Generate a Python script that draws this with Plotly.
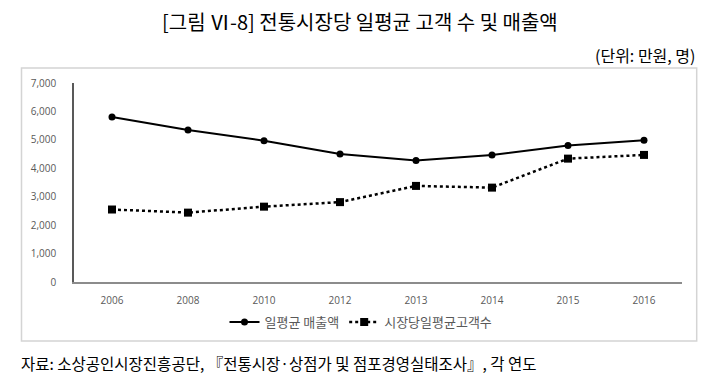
import plotly.graph_objects as go

years = ["2006", "2008", "2010", "2012", "2013", "2014", "2015", "2016"]
sales = [5800, 5350, 4970, 4500, 4270, 4470, 4800, 4990]
customers = [2550, 2440, 2650, 2810, 3380, 3320, 4340, 4470]
y_ticks = [0, 1000, 2000, 3000, 4000, 5000, 6000, 7000]
y_ticktext = ["0", "1,000", "2,000", "3,000", "4,000", "5,000", "6,000", "7,000"]

title_text = "[그림 Ⅵ-8] 전통시장당 일평균 고객 수 및 매출액"
unit_text = "(단위: 만원, 명)"
source_text = "자료: 소상공인시장진흥공단, 『전통시장·상점가 및 점포경영실태조사』, 각 연도"
name_sales = "일평균 매출액"
name_cust = "시장당일평균고객수"

W, H = 720, 386
OFF = 8  # page body offset
ML, MR, MT, MB = 74 - OFF, 38 + OFF, 83 - OFF, 104 + OFF
pw = W - ML - MR
ph = H - MT - MB

def px_x(px):
    return (px - OFF - ML) / pw

def px_y(py):
    return (H - MB - (py - OFF)) / ph

kr = "Noto Sans CJK KR"

fig = go.Figure()
fig.add_trace(go.Scatter(
    x=years, y=sales, name=name_sales, mode="lines+markers",
    line=dict(color="#000000", width=2),
    marker=dict(symbol="circle", size=7, color="#000000"),
))
fig.add_trace(go.Scatter(
    x=years, y=customers, name=name_cust, mode="lines+markers",
    line=dict(color="#000000", width=2.5, dash="dot"),
    marker=dict(symbol="square", size=8, color="#000000"),
))

frame = dict(color="#d4d4d4", width=1.5)
fx0, fx1, fy0, fy1 = px_x(21.5), px_x(696.7), px_y(341), px_y(68)

fig.update_layout(
    width=W, height=H,
    margin=dict(l=ML, r=MR, t=MT, b=MB, autoexpand=False),
    paper_bgcolor="white", plot_bgcolor="white",
    showlegend=True,
    legend=dict(
        orientation="h", xref="paper", yref="paper",
        x=px_x(361), xanchor="center", y=px_y(322), yanchor="middle",
        font=dict(family=kr, size=13, color="#595959"),
        bgcolor="rgba(0,0,0,0)",
    ),
    xaxis=dict(
        type="category", range=[-0.5, 7.5],
        showline=True, linecolor="#8c8c8c", linewidth=2,
        ticks="", showgrid=False, zeroline=False,
        tickfont=dict(family="Open Sans", size=10, color="#595959"),
        ticklabelstandoff=8,
    ),
    yaxis=dict(
        range=[0, 7000], tickvals=y_ticks, ticktext=y_ticktext,
        showline=True, linecolor="#595959", linewidth=1.5,
        ticks="", showgrid=False, zeroline=False,
        tickfont=dict(family="Open Sans", size=10, color="#595959"),
        ticklabelstandoff=14,
    ),
    shapes=[
        dict(type="rect", xref="paper", yref="paper", x0=fx0, x1=fx1, y0=fy0, y1=fy1,
             line=frame, fillcolor="rgba(0,0,0,0)", layer="above"),
    ],
    annotations=[
        dict(text=title_text, xref="paper", yref="paper",
             x=px_x(360), y=px_y(22), xanchor="center", yanchor="middle",
             showarrow=False, font=dict(family=kr, size=20, color="#000000")),
        dict(text=unit_text, xref="paper", yref="paper",
             x=px_x(697), y=px_y(55), xanchor="right", yanchor="middle",
             showarrow=False, font=dict(family=kr, size=16, color="#000000")),
        dict(text=source_text, xref="paper", yref="paper",
             x=px_x(19), y=px_y(363), xanchor="left", yanchor="middle",
             showarrow=False, font=dict(family=kr, size=15.5, color="#000000")),
    ],
)

fig.write_html("out.html")
